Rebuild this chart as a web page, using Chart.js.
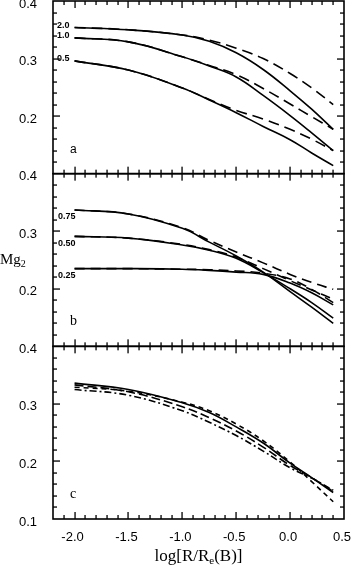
<!DOCTYPE html>
<html>
<head>
<meta charset="utf-8">
<script src="https://cdn.jsdelivr.net/npm/chart.js@4/dist/chart.umd.min.js"></script>
<style>
  html, body { margin: 0; padding: 0; background: #fff; }
  #wrap { position: relative; width: 352px; height: 566px; }
</style>
</head>
<body>
<div id="wrap"><canvas id="chart" width="352" height="566"></canvas></div>
<script>
// radius grid shared by every curve, log[R/Re(B)]
const logR = [-2.0, -1.5, -1.0, -0.75, -0.5, -0.25, 0.0, 0.2, 0.4];

// panel a
const aLabels = ['2.0', '1.0', '0.5'];
const aSolid20 = [0.354, 0.350, 0.341, 0.330, 0.310, 0.281, 0.244, 0.212, 0.177];
const aDash20  = [0.354, 0.350, 0.341, 0.332, 0.318, 0.300, 0.274, 0.249, 0.220];
const aSolid10 = [0.336, 0.329, 0.303, 0.287, 0.268, 0.236, 0.201, 0.171, 0.140];
const aDash10  = [0.336, 0.329, 0.303, 0.288, 0.272, 0.248, 0.221, 0.199, 0.177];
const aSolid05 = [0.296, 0.280, 0.249, 0.228, 0.206, 0.182, 0.159, 0.136, 0.114];
const aDash05  = [0.296, 0.280, 0.249, 0.229, 0.210, 0.195, 0.177, 0.160, 0.140];

// panel b
const bLabels = ['0.75', '0.50', '0.25'];
const bSolid75 = [0.337, 0.330, 0.305, 0.281, 0.257, 0.229, 0.195, 0.168, 0.140];
const bDash75  = [0.337, 0.330, 0.306, 0.284, 0.264, 0.245, 0.225, 0.211, 0.199];
const bSolid50 = [0.291, 0.288, 0.276, 0.267, 0.253, 0.228, 0.200, 0.176, 0.149];
const bDash50  = [0.291, 0.288, 0.277, 0.268, 0.255, 0.235, 0.214, 0.198, 0.182];
const bSolid25 = [0.235, 0.235, 0.234, 0.232, 0.229, 0.225, 0.210, 0.193, 0.172];
const bDash25  = [0.235, 0.235, 0.234, 0.233, 0.231, 0.227, 0.217, 0.199, 0.176];

// panel c
const cSolid  = [0.336, 0.325, 0.302, 0.285, 0.260, 0.232, 0.197, 0.172, 0.146];
const cShort  = [0.329, 0.322, 0.303, 0.288, 0.265, 0.236, 0.199, 0.165, 0.130];
const cLong   = [0.333, 0.321, 0.295, 0.276, 0.253, 0.225, 0.193, 0.172, 0.148];
const cDashDot = [0.325, 0.315, 0.288, 0.268, 0.245, 0.218, 0.189, 0.171, 0.150];

const panelNames = ['a', 'b', 'c'];
const xTicks = [-2.0, -1.5, -1.0, -0.5, 0.0, 0.5];
const yTicks = [0.1, 0.2, 0.3, 0.4];

const SANS = '"Liberation Sans", Arial, Helvetica, sans-serif';
const SERIF = '"Liberation Serif", "Times New Roman", serif';

function curve(values, axis, dash) {
    return {
        data: values.map((v, i) => ({ x: logR[i], y: v })),
        yAxisID: axis,
        borderColor: '#000',
        borderWidth: 1.6,
        borderDash: dash || [],
        pointRadius: 0,
        tension: 0.4,
        fill: false
    };
}

const datasets = [
    curve(aSolid20, 'ya'), curve(aDash20, 'ya', [11, 6]),
    curve(aSolid10, 'ya'), curve(aDash10, 'ya', [11, 6]),
    curve(aSolid05, 'ya'), curve(aDash05, 'ya', [11, 6]),
    curve(bSolid75, 'yb'), curve(bDash75, 'yb', [10, 6]),
    curve(bSolid50, 'yb'), curve(bDash50, 'yb', [10, 6]),
    curve(bSolid25, 'yb'), curve(bDash25, 'yb', [10, 6]),
    curve(cSolid, 'yc'), curve(cShort, 'yc', [5, 4]),
    curve(cLong, 'yc', [9, 4]), curve(cDashDot, 'yc', [7, 3, 2, 3])
];

function yScale(showBottom) {
    return {
        type: 'linear',
        position: 'left',
        stack: 'panels',
        stackWeight: 1,
        min: 0.1,
        max: 0.4,
        grid: { display: false, drawTicks: false },
        border: { display: false },
        afterBuildTicks: s => { s.ticks = yTicks.map(v => ({ value: v })); },
        afterFit: s => { s.width = 53; s.paddingTop = 0; s.paddingBottom = 0; },
        ticks: {
            autoSkip: false,
            padding: 16,
            labelOffset: 3,
            color: '#000',
            font: { family: SANS, size: 13 },
            callback: v => (!showBottom && Math.abs(v - 0.1) < 1e-6) ? '' : v.toFixed(1)
        }
    };
}

// frames, inward ticks, curve and panel labels, axis titles
const decor = {
    id: 'decor',
    afterDraw(chart) {
        const ctx = chart.ctx;
        const xs = chart.scales.x;
        const left = xs.getPixelForValue(-2.2), right = xs.getPixelForValue(0.5);
        ctx.save();
        ctx.setLineDash([]);
        ctx.strokeStyle = '#000';
        ctx.fillStyle = '#000';

        ['ya', 'yb', 'yc'].forEach((id, p) => {
            const ys = chart.scales[id];
            const top = ys.getPixelForValue(0.4), bottom = ys.getPixelForValue(0.1);
            ctx.lineWidth = 1.6;
            ctx.strokeRect(left, top, right - left, bottom - top);

            // tick marks pointing into the panel
            for (let i = -21; i <= 4; i++) {
                const px = Math.round(xs.getPixelForValue(i / 10));
                const len = i % 5 === 0 ? 7 : 4;
                ctx.fillRect(px - 0.6, top, 1.3, len);
                ctx.fillRect(px - 0.6, bottom - len, 1.3, len);
            }
            for (let i = 6; i <= 19; i++) {
                const py = Math.round(ys.getPixelForValue(i / 50));
                const len = i % 5 === 0 ? 7 : 4;
                ctx.fillRect(left, py - 0.6, len, 1.3);
                ctx.fillRect(right - len, py - 0.6, len, 1.3);
            }

            // panel letter
            ctx.textAlign = 'left';
            ctx.textBaseline = 'alphabetic';
            ctx.font = p === 0 ? '12px ' + SANS : '14px ' + SERIF;
            ctx.fillText(panelNames[p], 70, bottom - 21);
        });

        // curve labels at the start of each solid curve
        ctx.font = 'bold 9px ' + SANS;
        ctx.textAlign = 'left';
        ctx.textBaseline = 'middle';
        const ya = chart.scales.ya, yb = chart.scales.yb;
        [aSolid20, aSolid10, aSolid05].forEach((vals, i) => {
            ctx.fillText(aLabels[i], 57, ya.getPixelForValue(vals[0]) - 2);
        });
        [bSolid75, bSolid50, bSolid25].forEach((vals, i) => {
            ctx.fillText(bLabels[i], 58, yb.getPixelForValue(vals[0]) + 7);
        });

        // y title Mg2
        const mid = (yb.getPixelForValue(0.4) + yb.getPixelForValue(0.1)) / 2;
        ctx.textBaseline = 'alphabetic';
        ctx.font = '15px ' + SERIF;
        ctx.fillText('Mg', 0, mid + 4);
        const mw = ctx.measureText('Mg').width;
        ctx.font = '10px ' + SERIF;
        ctx.fillText('2', mw, mid + 7);

        // x title log[R/Re(B)]
        const parts = [['log[R/R', 17, 0], ['e', 11, 3], ['(B)]', 17, 0]];
        let total = 0;
        parts.forEach(pt => { ctx.font = pt[1] + 'px ' + SERIF; total += ctx.measureText(pt[0]).width; });
        let tx = (left + right) / 2 - total / 2;
        const base = 561;
        parts.forEach(pt => {
            ctx.font = pt[1] + 'px ' + SERIF;
            ctx.fillText(pt[0], tx, base + pt[2]);
            tx += ctx.measureText(pt[0]).width;
        });
        ctx.restore();
    }
};

new Chart(document.getElementById('chart'), {
    type: 'line',
    data: { datasets: datasets },
    plugins: [decor],
    options: {
        responsive: false,
        animation: false,
        devicePixelRatio: 1,
        layout: { padding: { top: 1, right: 8, left: 0, bottom: 0 } },
        plugins: { legend: { display: false }, tooltip: { enabled: false } },
        scales: {
            x: {
                type: 'linear',
                position: 'bottom',
                min: -2.2,
                max: 0.5,
                grid: { display: false, drawTicks: false },
                border: { display: false },
                afterBuildTicks: s => { s.ticks = xTicks.map(v => ({ value: v })); },
                afterFit: s => { s.height = 47; s.paddingLeft = 0; s.paddingRight = 0; },
                ticks: {
                    autoSkip: false,
                    maxRotation: 0,
                    padding: 11,
                    labelOffset: -2,
                    color: '#000',
                    font: { family: SANS, size: 13 },
                    callback: v => v.toFixed(1)
                }
            },
            // stacked axes are placed top-down in reverse declaration order
            yc: yScale(true),
            yb: yScale(false),
            ya: yScale(false)
        }
    }
});
</script>
</body>
</html>
